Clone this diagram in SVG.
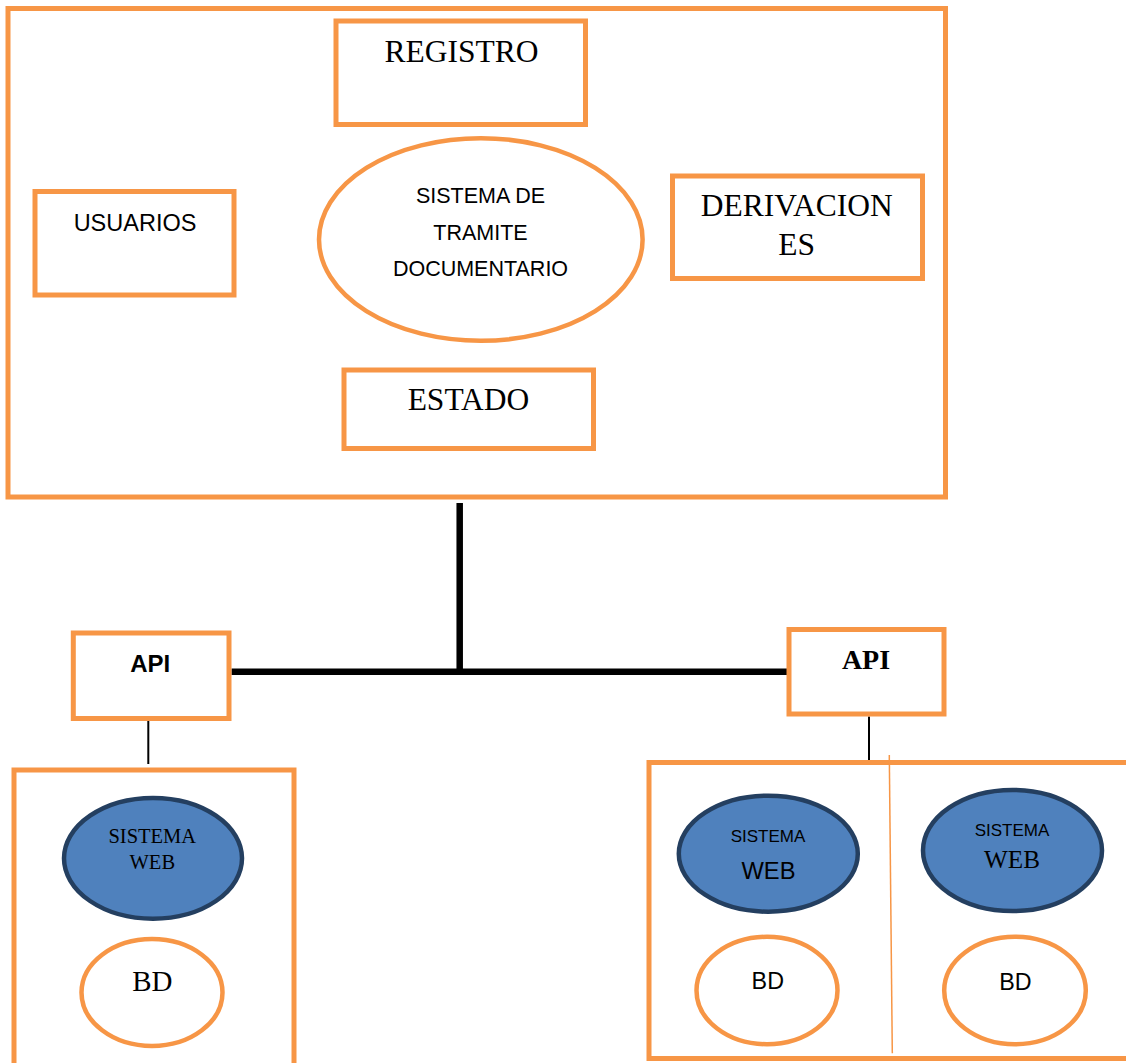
<svg xmlns="http://www.w3.org/2000/svg" width="1126" height="1063" viewBox="0 0 1126 1063">
  <style>
    .box { fill: #FFFFFF; stroke: #F79646; stroke-width: 5; }
    .oval { fill: #FFFFFF; stroke: #F79646; stroke-width: 4.5; }
    .web { fill: #4F81BD; stroke: #243F60; stroke-width: 4.5; }
    .serif { font-family: "Liberation Serif", "Times New Roman", serif; fill: #000000; text-anchor: middle; }
    .sans { font-family: "Liberation Sans", Arial, sans-serif; fill: #000000; text-anchor: middle; }
    .bus { stroke: #000000; stroke-width: 6.5; fill: none; }
    .link { stroke: #000000; stroke-width: 2; fill: none; }
  </style>
  <rect width="1126" height="1063" fill="#FFFFFF"/>

  <!-- main system frame -->
  <g id="sistema-tramite">
    <rect class="box" x="8" y="8.5" width="937.5" height="488.5"/>
  </g>

  <g id="registro">
    <rect class="box" x="336" y="21" width="249.5" height="103.5"/>
    <text class="serif" x="461.5" y="61.5" font-size="31.5">REGISTRO</text>
  </g>

  <g id="usuarios">
    <rect class="box" x="35" y="191.5" width="199" height="103.5"/>
    <text class="sans" x="135" y="231" font-size="23.5">USUARIOS</text>
  </g>

  <g id="nucleo">
    <ellipse class="oval" cx="480.8" cy="239.5" rx="161.8" ry="101.3"/>
    <text class="sans" x="480.5" y="202.5" font-size="21.5">SISTEMA DE</text>
    <text class="sans" x="480.5" y="240" font-size="21.5">TRAMITE</text>
    <text class="sans" x="480.5" y="275.5" font-size="21.5">DOCUMENTARIO</text>
  </g>

  <g id="derivaciones">
    <rect class="box" x="672.5" y="176" width="250" height="102.5"/>
    <text class="serif" x="796.7" y="215.5" font-size="31.5">DERIVACION</text>
    <text class="serif" x="796.7" y="255" font-size="31.5">ES</text>
  </g>

  <g id="estado">
    <rect class="box" x="344" y="370" width="249.5" height="78.5"/>
    <text class="serif" x="468.5" y="410" font-size="31.5">ESTADO</text>
  </g>

  <!-- connectors -->
  <g id="connectors">
    <line class="bus" x1="459.7" y1="503" x2="459.7" y2="675"/>
    <line class="bus" x1="231.5" y1="671.7" x2="788.5" y2="671.7"/>
    <line class="link" x1="148.3" y1="719" x2="148.3" y2="764"/>
    <line class="link" x1="869" y1="716.5" x2="869" y2="761.5"/>
  </g>

  <!-- left client -->
  <g id="api-izquierda">
    <rect class="box" x="73.3" y="633" width="155.7" height="85.5"/>
    <text class="sans" x="150.3" y="671.5" font-size="24" font-weight="bold">API</text>
  </g>

  <g id="cliente-izquierdo">
    <rect class="box" x="14" y="770" width="280" height="320"/>
  </g>

  <g id="web-izquierda">
    <ellipse class="web" cx="153" cy="858.3" rx="89" ry="60.4"/>
    <text class="serif" x="152.3" y="842.5" font-size="20.5">SISTEMA</text>
    <text class="serif" x="152.3" y="869.3" font-size="20.5">WEB</text>
  </g>

  <g id="bd-izquierda">
    <ellipse class="oval" cx="152" cy="992.5" rx="70.5" ry="53.5"/>
    <text class="serif" x="152.3" y="990.7" font-size="29">BD</text>
  </g>

  <!-- right client -->
  <g id="api-derecha">
    <rect class="box" x="789" y="629.5" width="155" height="84.5"/>
    <text class="serif" x="866" y="669" font-size="28" font-weight="bold">API</text>
  </g>

  <g id="cliente-derecho">
    <rect class="box" x="649" y="762.5" width="520" height="296"/>
    <line x1="889.3" y1="755" x2="892.3" y2="1053.3" stroke="#F79646" stroke-width="1.5"/>
  </g>

  <g id="web-derecha-1">
    <ellipse class="web" cx="768.3" cy="853.7" rx="89.5" ry="58"/>
    <text class="sans" x="768" y="841.5" font-size="17">SISTEMA</text>
    <text class="sans" x="768.5" y="879.3" font-size="23.7">WEB</text>
  </g>

  <g id="web-derecha-2">
    <ellipse class="web" cx="1012.5" cy="850.5" rx="89.5" ry="60.5"/>
    <text class="sans" x="1012" y="836" font-size="17">SISTEMA</text>
    <text class="serif" x="1012" y="868.3" font-size="25.2">WEB</text>
  </g>

  <g id="bd-derecha-1">
    <ellipse class="oval" cx="767" cy="990.5" rx="70.5" ry="53.7"/>
    <text class="sans" x="767.8" y="989.3" font-size="23.3">BD</text>
  </g>

  <g id="bd-derecha-2">
    <ellipse class="oval" cx="1015" cy="990.5" rx="70.8" ry="53.7"/>
    <text class="sans" x="1015.5" y="990" font-size="23.3">BD</text>
  </g>
</svg>
